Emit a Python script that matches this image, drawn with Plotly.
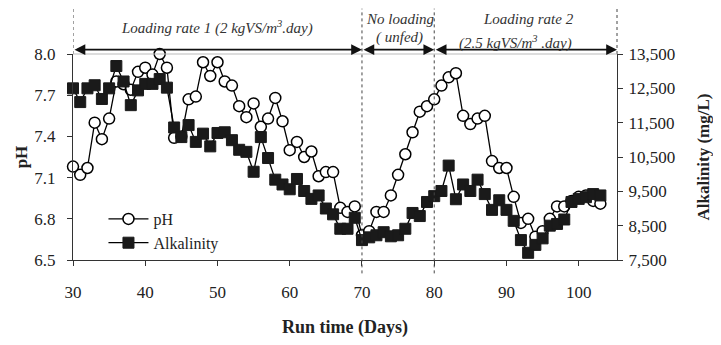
import plotly.graph_objects as go

days = list(range(30, 104))
ph = [7.18, 7.12, 7.17, 7.50, 7.38, 7.53, 7.80, 7.78, 7.74, 7.87,
      7.90, 7.85, 8.00, 7.90, 7.39, 7.40, 7.67, 7.69, 7.94, 7.84,
      7.94, 7.80, 7.77, 7.62, 7.54, 7.64, 7.47, 7.53, 7.68, 7.51,
      7.30, 7.36, 7.25, 7.29, 7.11, 7.14, 7.14, 6.88, 6.85, 6.89,
      6.68, 6.71, 6.85, 6.85, 6.97, 7.12, 7.27, 7.43, 7.58, 7.62,
      7.67, 7.77, 7.83, 7.86, 7.55, 7.49, 7.53, 7.55, 7.22, 7.17,
      7.17, 6.96, 6.77, 6.80, 6.67, 6.71, 6.80, 6.89, 6.89, 6.93,
      6.96, 6.97, 6.93, 6.91]
alkalinity = [12500, 12100, 12500, 12590, 12190, 12500, 13150, 12700, 12010, 12440,
              12630, 12630, 12770, 12520, 11360, 11080, 11430, 10940, 11180, 10810,
              11200, 11220, 10990, 10710, 10650, 10070, 11080, 10470, 9840, 9700,
              9560, 9860, 9510, 9280, 9380, 9000, 8830, 8410, 8410, 8730,
              8080, 8160, 8220, 8310, 8190, 8220, 8410, 8870, 8780, 9190,
              9360, 9510, 10250, 9270, 9700, 9510, 9840, 9420, 8960, 9240,
              8960, 8640, 8080, 7710, 7940, 8130, 8500, 8550, 8680, 9190,
              9280, 9330, 9420, 9380]

x_ticks = [30, 40, 50, 60, 70, 80, 90, 100]
ph_ticks = [6.5, 6.8, 7.1, 7.4, 7.7, 8.0]
alk_ticks = [7500, 8500, 9500, 10500, 11500, 12500, 13500]
phase_bounds = [30, 70, 80, 105.3]
phase_labels = [
    ("Loading rate 1 (2 kgVS/m<sup>3</sup>.day)", 50, 1.127),
    ("No loading", 75.3, 1.168),
    ("( unfed)", 75.2, 1.08),
    ("Loading rate 2", 93, 1.168),
    ("(2.5 kgVS/m<sup>3</sup> .day)", 91.3, 1.058),
]

FONT = "Liberation Serif, Times New Roman, serif"

fig = go.Figure()
fig.add_trace(go.Scatter(
    x=days, y=ph, name="pH", mode="lines+markers", cliponaxis=False,
    line=dict(color="black", width=1.3),
    marker=dict(symbol="circle", size=11, color="white",
                line=dict(color="black", width=1.5)),
))
fig.add_trace(go.Scatter(
    x=days, y=alkalinity, name="Alkalinity", mode="lines+markers", yaxis="y2",
    cliponaxis=False,
    line=dict(color="black", width=1.3),
    marker=dict(symbol="square", size=11, color="#1a1a1a",
                line=dict(color="#1a1a1a", width=1)),
))

# vertical dotted boundaries
for xb in [30, 70, 80]:
    y0 = 1.0 if xb == 30 else -0.065
    fig.add_shape(type="line", xref="x", yref="paper", x0=xb, x1=xb, y0=y0, y1=1.22,
                  line=dict(color="#444", width=1, dash="dot"))
fig.add_shape(type="line", xref="paper", yref="paper", x0=1, x1=1, y0=1.0, y1=1.22,
              line=dict(color="#444", width=1, dash="dot"))
# top thin frame line
fig.add_shape(type="line", xref="paper", yref="paper", x0=0, x1=1, y0=1.0, y1=1.0,
              line=dict(color="#bbb", width=1))

# double-headed arrows for phases
for a, b in zip(phase_bounds[:-1], phase_bounds[1:]):
    fig.add_annotation(x=b, y=1.021, xref="x", yref="paper", ax=a, ay=0,
                       axref="x", ayref="pixel", text="", showarrow=True,
                       arrowhead=2, startarrowhead=2, arrowside="end+start",
                       arrowsize=1.2, startarrowsize=1.2, arrowwidth=1.8,
                       arrowcolor="#111")

for txt, xp, yp in phase_labels:
    fig.add_annotation(x=xp, y=yp, xref="x", yref="paper", text=f"<i>{txt}</i>",
                       showarrow=False, xanchor="center", yanchor="middle",
                       font=dict(family=FONT, size=15, color="#333"))

# The page body has an 8px margin, so the figure is sized/offset to compensate.
fig.update_layout(
    width=713, height=337,
    margin=dict(l=65, r=98, t=46, b=74),
    paper_bgcolor="white", plot_bgcolor="white",
    font=dict(family=FONT, size=16, color="#222"),
    showlegend=True,
    legend=dict(x=0.056, y=0.0, xanchor="left", yanchor="bottom",
                bgcolor="rgba(255,255,255,0.6)", borderwidth=0,
                font=dict(family=FONT, size=16, color="#222"),
                tracegroupgap=0, itemwidth=40),
    xaxis=dict(range=[30, 105.3], tickvals=x_ticks, showline=True, linecolor="#333",
               linewidth=1, ticks="outside", ticklen=5, tickcolor="#333",
               ticklabelstandoff=12, tickfont=dict(size=17),
               showgrid=False, zeroline=False,
               title=dict(text="<b>Run time (Days)</b>", standoff=18,
                          font=dict(family=FONT, size=18))),
    yaxis=dict(range=[6.5, 8.0], tickvals=ph_ticks, tickformat=".1f",
               showline=True, linecolor="#333", linewidth=1, ticks="outside",
               ticklen=5, tickcolor="#333", ticklabelstandoff=8,
               tickfont=dict(size=17), showgrid=False, zeroline=False,
               title=dict(text="<b>pH</b>", standoff=2,
                          font=dict(family=FONT, size=17))),
    yaxis2=dict(range=[7500, 13500], tickvals=alk_ticks, tickformat=",",
                overlaying="y", side="right", showline=True, linecolor="#333",
                linewidth=1, ticks="outside", ticklen=5, tickcolor="#333",
                ticklabelstandoff=2, tickfont=dict(size=17),
                showgrid=False, zeroline=False,
                title=dict(text="<b>Alkalinity (mg/L)</b>", standoff=22,
                           font=dict(family=FONT, size=17))),
)

fig.write_html("out.html")
